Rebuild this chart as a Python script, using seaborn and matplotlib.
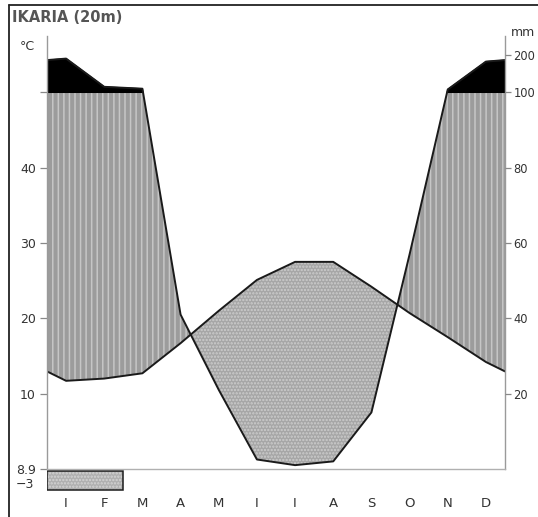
import numpy as np
import pandas as pd
import matplotlib
matplotlib.use('Agg')
import matplotlib.pyplot as plt
import seaborn as sns
from matplotlib.lines import Line2D
from matplotlib.patches import Rectangle

# Walter-Lieth climate diagram, Ikaria (20 m)
months = ['I', 'F', 'M', 'A', 'M', 'I', 'I', 'A', 'S', 'O', 'N', 'D']
temp_c = [11.7, 12.0, 12.7, 16.7, 21.0, 25.1, 27.5, 27.5, 24.2, 20.7, 17.5, 14.2]
precip_mm = [190, 115, 110, 41, 21, 2.5, 1, 2, 15, 57, 108, 182]
frost_months = [0, 1]
left_ticks = [0, 10, 20, 30, 40, 50]
left_labels = ['8.9', '10', '20', '30', '40', '']
right_mm = [20, 40, 60, 80, 100, 200]
title = 'IKARIA (20m)'
abs_min_label = '\u22123'


def scale_precip(p):
    # 20 mm = 10 degC up to 100 mm, above that 1/10 scale
    p = np.asarray(p, float)
    return np.where(p <= 100, p / 2, 50 + (p - 100) / 20)


sns.set_style('white')
plt.rcParams['font.family'] = ['DejaVu Sans']
plt.rcParams['hatch.linewidth'] = 1.1

fig = plt.figure(figsize=(5.38, 5.17), dpi=100)
ax = fig.add_axes([47 / 538, (517 - 493) / 517, 458 / 538, (493 - 36) / 517])

# month centres plus both edges (edge = mean of Dec and Jan)
x_mid = np.arange(12) + 0.5
x_ext = np.concatenate([[0], x_mid, [12]])
t_edge = (temp_c[0] + temp_c[-1]) / 2
p_edge = (precip_mm[0] + precip_mm[-1]) / 2
t_ext = np.array([t_edge] + temp_c + [t_edge])
p_ext = scale_precip([p_edge] + precip_mm + [p_edge])

# dense copy of the piecewise-linear curves, only for the fill shapes
xf = np.linspace(0, 12, 2401)
tf = np.interp(xf, x_ext, t_ext)
pf = np.interp(xf, x_ext, p_ext)

ax.fill_between(xf, tf, np.minimum(pf, 50), where=pf >= tf, interpolate=True,
                facecolor='#9c9c9c', hatch='|||', edgecolor='#c6c6c6', lw=0)
ax.fill_between(xf, pf, tf, where=tf > pf, interpolate=True,
                facecolor='#a6a6a6', hatch='.....', edgecolor='#cdcdcd', lw=0)
ax.fill_between(xf, 50, pf, where=pf > 50, interpolate=True,
                facecolor='black', edgecolor='black', lw=0.8)

df = pd.DataFrame({'x': x_ext, 'temp': t_ext, 'prec': p_ext})
sns.lineplot(data=df, x='x', y='temp', ax=ax, color='#1a1a1a', lw=1.4)
sns.lineplot(data=df, x='x', y='prec', ax=ax, color='#1a1a1a', lw=1.4)

# frost months bar
for m in frost_months:
    ax.add_patch(Rectangle((m, -2.8), 1, 2.5, facecolor='#b0b0b0', hatch='.....',
                           edgecolor='#d4d4d4', lw=0))
ax.add_patch(Rectangle((min(frost_months), -2.8), len(frost_months), 2.5,
                       fill=False, edgecolor='#1a1a1a', lw=1.1))

ax.set_xlim(0, 12)
ax.set_ylim(-3.2, 57.5)
ax.set_xlabel('')
ax.set_ylabel('')

ax.spines['top'].set_visible(False)
ax.spines['left'].set_bounds(0, 57.5)
ax.spines['right'].set_bounds(0, 57.5)
ax.spines['bottom'].set_position(('data', 0))
for s in ['left', 'right']:
    ax.spines[s].set_color('#9a9a9a')
    ax.spines[s].set_linewidth(1.0)
ax.spines['bottom'].set_color('#b0b0b0')
ax.spines['bottom'].set_linewidth(1.0)

ax.set_yticks(left_ticks)
ax.set_yticklabels(left_labels)
ax.tick_params(axis='y', direction='out', length=5, width=0.9, color='#888888',
               labelsize=9, labelcolor='#333333', pad=3)
ax.set_xticks(np.arange(1, 12))
ax.set_xticklabels([])
ax.tick_params(axis='x', direction='in', length=5, width=0.9, color='#aaaaaa')

ax2 = ax.twinx()
ax2.set_ylim(ax.get_ylim())
ax2.set_yticks(scale_precip(right_mm))
ax2.set_yticklabels([str(v) for v in right_mm])
ax2.tick_params(axis='y', direction='out', length=4, width=0.9, color='#888888',
                labelsize=8.3, labelcolor='#333333', pad=2)
for s in ['top', 'left', 'bottom', 'right']:
    ax2.spines[s].set_visible(False)

ax.text(-0.33, -2.1, abs_min_label, ha='right', va='center', fontsize=9,
        color='#333333', clip_on=False)
for xm, lab in zip(x_mid, months):
    ax.text(xm, -4.6, lab, ha='center', va='center', fontsize=9.5,
            color='#333333', clip_on=False)

fig.text(12 / 538, 1 - 18 / 517, title, ha='left', va='center', fontsize=10.5,
         color='#555555', fontweight='bold')
fig.text(20 / 538, 1 - 46 / 517, '\u00b0C', ha='left', va='center', fontsize=9,
         color='#333333')
fig.text(511 / 538, 1 - 32 / 517, 'mm', ha='left', va='center', fontsize=9,
         color='#333333')

# outer frame: top and left edges
fig.add_artist(Line2D([9 / 538, 1], [1 - 5 / 517, 1 - 5 / 517], color='#222222', lw=1.3))
fig.add_artist(Line2D([9 / 538, 9 / 538], [0, 1 - 5 / 517], color='#222222', lw=1.3))

fig.savefig('out.png', dpi=100)
